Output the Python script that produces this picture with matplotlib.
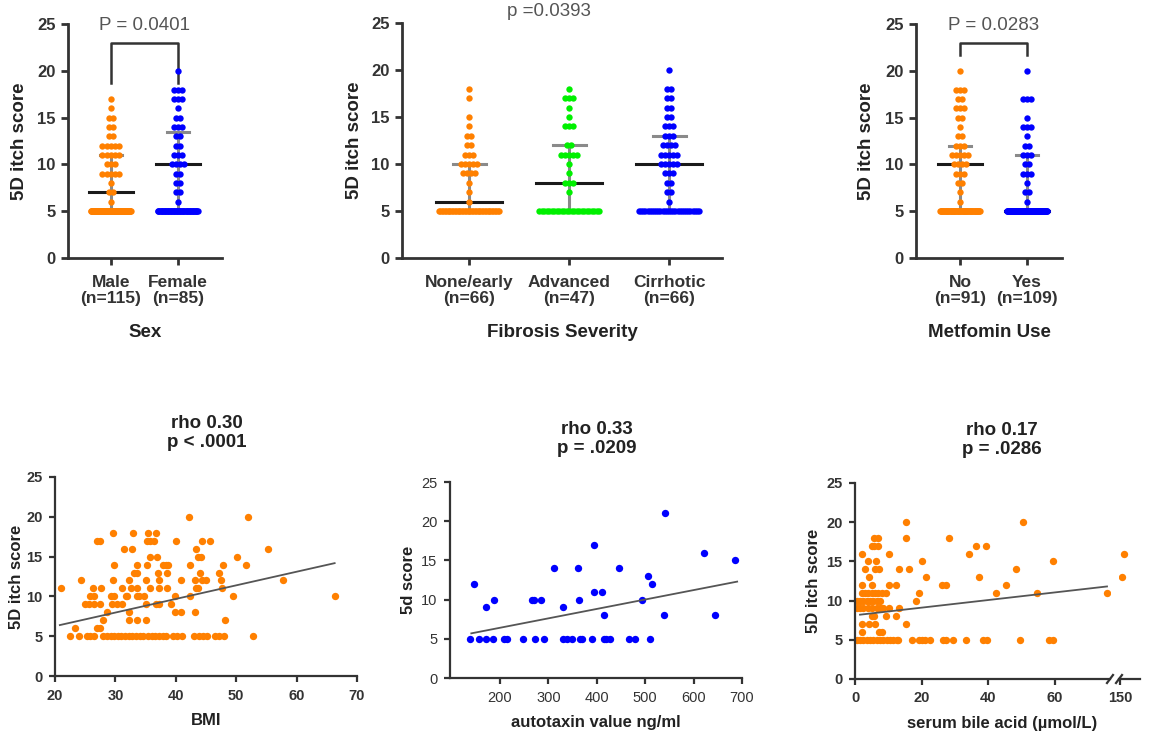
import numpy as np
import matplotlib
matplotlib.use('Agg')
import matplotlib.pyplot as plt

plt.rcParams['font.family'] = ['Liberation Sans', 'DejaVu Sans']

W, H = 1150, 731
ORANGE = '#ff8000'
BLUE = '#0000ff'
GREEN = '#00f000'
AXC = '#333333'

# ---- top row: 5D itch score dot plots (number of patients at each score) ----
score_levels = [5, 6, 7, 8, 9, 10, 11, 12, 13, 14, 15, 16, 17, 18, 19, 20]

male_counts = [85, 1, 2, 1, 5, 3, 5, 5, 2, 2, 2, 1, 1, 0, 0, 0]
female_counts = [54, 1, 2, 2, 2, 4, 3, 2, 2, 3, 2, 1, 3, 3, 0, 1]
none_counts = [43, 1, 1, 1, 4, 5, 3, 2, 2, 1, 1, 0, 1, 1, 0, 0]
advanced_counts = [25, 0, 1, 3, 1, 1, 5, 2, 0, 3, 1, 1, 3, 1, 0, 0]
cirrhotic_counts = [29, 1, 2, 2, 3, 5, 5, 4, 3, 3, 2, 2, 2, 2, 0, 1]
no_counts = [58, 1, 1, 2, 3, 4, 5, 3, 2, 1, 2, 3, 2, 3, 0, 1]
yes_counts = [86, 1, 2, 1, 3, 2, 3, 2, 1, 3, 1, 0, 3, 0, 0, 1]

sex_labels = ['Male\n(n=115)', 'Female\n(n=85)']
sex_median = [7, 10]
sex_q1 = [5, 5]
sex_q3 = [11, 13.5]

fib_labels = ['None/early\n(n=66)', 'Advanced\n(n=47)', 'Cirrhotic\n(n=66)']
fib_median = [6, 8, 10]
fib_q1 = [5, 5, 5]
fib_q3 = [10, 12, 13]

met_labels = ['No\n(n=91)', 'Yes\n(n=109)']
met_median = [10, 5]
met_q1 = [5, 5]
met_q3 = [12, 11]

# ---- bottom row: scatter data ----
bmi_value = [42.2, 51.9,
             29.6, 32.9, 35.4, 36.8,
             27.0, 27.5, 35.3, 35.8, 36.4, 40.1, 44.4, 45.7,
             31.4, 32.8, 43.4, 55.3,
             35.7, 36.9, 43.6, 44.2, 50.2,
             29.7, 33.5, 35.3, 37.8, 38.3, 38.7, 42.4, 47.8, 51.6,
             33.1, 33.6, 37.1, 38.5, 44.0, 47.1,
             24.3, 29.6, 32.2, 35.0, 37.2, 40.8, 43.2, 44.4, 45.0, 47.5, 57.8,
             21.0, 26.3, 27.6, 31.1, 32.5, 33.6, 35.8, 37.2, 38.6, 43.3, 43.6, 47.6,
             25.8, 26.4, 29.2, 29.7, 31.7, 32.0, 33.5, 33.9, 34.7, 39.8, 42.4, 49.4, 66.3,
             25.0, 25.6, 26.4, 27.5, 29.4, 30.3, 31.1, 35.0, 36.7, 37.2, 39.2,
             28.6, 32.2, 39.8, 40.9, 43.1,
             27.9, 32.2, 33.5, 35.0, 48.2,
             23.3, 27.0, 27.5,
             22.5, 23.9, 25.3, 25.8, 26.4, 28.0, 28.6, 29.2, 29.8, 30.4, 31.0, 31.6,
             32.2, 32.8, 33.4, 34.0, 34.6, 35.4, 36.0, 36.6, 37.2, 37.8, 38.4, 39.5,
             40.2, 41.0, 43.0, 43.8, 44.5, 45.2, 46.5, 47.2, 47.9, 52.8]
bmi_score = [20, 20,
             18, 18, 18, 18,
             17, 17, 17, 17, 17, 17, 17, 17,
             16, 16, 16, 16,
             15, 15, 15, 15, 15,
             14, 14, 14, 14, 14, 14, 14, 14, 14,
             13, 13, 13, 13, 13, 13,
             12, 12, 12, 12, 12, 12, 12, 12, 12, 12, 12,
             11, 11, 11, 11, 11, 11, 11, 11, 11, 11, 11, 11,
             10, 10, 10, 10, 10, 10, 10, 10, 10, 10, 10, 10, 10,
             9, 9, 9, 9, 9, 9, 9, 9, 9, 9, 9,
             8, 8, 8, 8, 8,
             7, 7, 7, 7, 7,
             6, 6, 6,
             5, 5, 5, 5, 5, 5, 5, 5, 5, 5, 5, 5,
             5, 5, 5, 5, 5, 5, 5, 5, 5, 5, 5, 5,
             5, 5, 5, 5, 5, 5, 5, 5, 5, 5]
bmi_fit = (2.84, 0.171)        # intercept, slope
bmi_fit_range = (20.8, 66.3)

atx_value = [540, 394, 622, 685,
             312, 361, 445,
             506,
             147, 514,
             395, 410,
             188, 266, 270, 285, 364, 493,
             172, 330,
             415, 538, 645,
             138, 157, 172, 186, 208, 214, 248, 272, 292, 330, 339,
             348, 366, 369, 391, 415, 419, 428, 466, 479, 509]
atx_score = [21, 17, 16, 15,
             14, 14, 14,
             13,
             12, 12,
             11, 11,
             10, 10, 10, 10, 10, 10,
             9, 9,
             8, 8, 8,
             5, 5, 5, 5, 5, 5, 5, 5, 5, 5, 5,
             5, 5, 5, 5, 5, 5, 5, 5, 5, 5]
atx_fit = (4.0, 0.01202)
atx_fit_range = (141, 690)

bile_value = [15.2, 50.3,
              5.8, 7.0, 15.2, 28.2,
              5.0, 5.8, 7.0, 36.3, 39.3,
              2.2, 10.2, 34.3, 151.8,
              4.0, 6.2, 20.2, 59.5,
              3.0, 6.0, 7.3, 13.2, 16.2, 48.3,
              4.3, 21.2, 37.3, 151.0,
              2.0, 5.0, 10.2, 12.3, 26.2, 27.2, 45.2,
              2.0, 3.0, 4.0, 5.0, 6.0, 7.0, 8.0, 9.2, 19.3, 42.2, 54.5, 75.5,
              0.5, 1.5, 2.5, 3.5, 4.5, 5.5, 6.5, 7.5, 18.3,
              0.5, 1.5, 2.5, 4.0, 5.0, 6.5, 7.5, 8.5, 10.2, 13.2,
              5.0, 5.8, 9.2, 12.2,
              2.2, 4.2, 6.0, 15.2,
              2.2, 7.2, 8.2,
              0.5, 1.5, 2.5, 3.5, 4.5, 5.5, 6.5, 7.5, 8.5, 9.5, 10.5, 11.5, 12.5, 13.0,
              17.0, 19.2, 20.0, 21.0, 22.5, 26.5, 27.3, 29.5, 33.3, 38.5, 39.5, 49.5,
              58.3, 59.5]
bile_score = [20, 20,
              18, 18, 18, 18,
              17, 17, 17, 17, 17,
              16, 16, 16, 16,
              15, 15, 15, 15,
              14, 14, 14, 14, 14, 14,
              13, 13, 13, 13,
              12, 12, 12, 12, 12, 12, 12,
              11, 11, 11, 11, 11, 11, 11, 11, 11, 11, 11, 11,
              10, 10, 10, 10, 10, 10, 10, 10, 10,
              9, 9, 9, 9, 9, 9, 9, 9, 9, 9,
              8, 8, 8, 8,
              7, 7, 7, 7,
              6, 6, 6,
              5, 5, 5, 5, 5, 5, 5, 5, 5, 5, 5, 5, 5, 5,
              5, 5, 5, 5, 5, 5, 5, 5, 5, 5, 5, 5,
              5, 5]
bile_fit = (8.13, 0.0486)
bile_fit_range = (1.5, 75.6)

fig = plt.figure(figsize=(W / 100, H / 100), dpi=100)


def add_ax(left, top, right, bottom):
    return fig.add_axes([left / W, 1 - bottom / H, (right - left) / W, (bottom - top) / H])


def dot_column(ax, pos, counts, color, px_per_unit):
    step = 4.2 / px_per_unit
    half = 0.3
    xs, ys = [], []
    for level, c in zip(score_levels, counts):
        if c == 0:
            continue
        d = min(step, 2 * half / (c - 1)) if c > 1 else 0
        offs = (np.arange(c) - (c - 1) / 2) * d
        xs.extend(pos + offs)
        ys.extend([level] * c)
    ax.scatter(xs, ys, s=21, color=color, linewidths=0, zorder=4)


def summary(ax, pos, med, q1, q3):
    ax.plot([pos, pos], [q1, q3], color='#8a8a8a', lw=2.2, zorder=3, solid_capstyle='butt')
    ax.plot([pos - 0.165, pos + 0.165], [q3, q3], color='#8a8a8a', lw=2.2, zorder=3)
    ax.plot([pos - 0.33, pos + 0.33], [med, med], color='#1a1a1a', lw=2.2, zorder=3)


def style_top(ax, labels, xlabel, xlim):
    for s in ['top', 'right']:
        ax.spines[s].set_visible(False)
    for s in ['left', 'bottom']:
        ax.spines[s].set_linewidth(2)
        ax.spines[s].set_color(AXC)
    ax.set_ylim(0, 25)
    ax.set_xlim(*xlim)
    ax.set_yticks([0, 5, 10, 15, 20, 25])
    ax.set_xticks(range(len(labels)))
    ax.set_xticklabels(labels, fontsize=12.5, fontweight='bold', linespacing=1.15)
    ax.tick_params(direction='out', length=5, width=2, colors=AXC)
    ax.tick_params(axis='x', pad=7)
    ax.tick_params(axis='y', labelsize=12, pad=4)
    for lbl in ax.get_yticklabels():
        lbl.set_fontweight('bold')
    ax.set_xlabel(xlabel, fontsize=13.5, fontweight='bold', color='#222')
    ax.set_ylabel('5D itch score', fontsize=13.5, fontweight='bold', color='#222')


# Sex
ax1 = add_ax(68, 24, 222, 258)
dot_column(ax1, 0, male_counts, ORANGE, 67)
dot_column(ax1, 1, female_counts, BLUE, 67)
for i in range(2):
    summary(ax1, i, sex_median[i], sex_q1[i], sex_q3[i])
style_top(ax1, sex_labels, 'Sex', (-0.64, 1.66))
ax1.plot([0, 0, 1, 1], [18.7, 23, 23, 18.7], color='#333', lw=1.8, clip_on=False)
ax1.text(0.5, 24.8, 'P = 0.0401', ha='center', va='center', fontsize=13.5, color='#555')
ax1.yaxis.set_label_coords(-0.26, 0.5)
ax1.xaxis.set_label_coords(0.5, -0.28)

# Fibrosis severity
ax2 = add_ax(402, 23, 722, 258)
dot_column(ax2, 0, none_counts, ORANGE, 100)
dot_column(ax2, 1, advanced_counts, GREEN, 100)
dot_column(ax2, 2, cirrhotic_counts, BLUE, 100)
for i in range(3):
    summary(ax2, i, fib_median[i], fib_q1[i], fib_q3[i])
style_top(ax2, fib_labels, 'Fibrosis Severity', (-0.67, 2.53))
ax2.text(0.8, 26.2, 'p =0.0393', ha='center', va='center', fontsize=13.5, color='#555')
ax2.yaxis.set_label_coords(-0.122, 0.5)
ax2.xaxis.set_label_coords(0.5, -0.28)

# Metformin use
ax3 = add_ax(916, 24, 1062, 258)
dot_column(ax3, 0, no_counts, ORANGE, 67)
dot_column(ax3, 1, yes_counts, BLUE, 67)
for i in range(2):
    summary(ax3, i, met_median[i], met_q1[i], met_q3[i])
style_top(ax3, met_labels, 'Metfomin Use', (-0.657, 1.52))
ax3.plot([0, 0, 1, 1], [21.7, 23, 23, 21.7], color='#333', lw=1.8, clip_on=False)
ax3.text(0.5, 24.8, 'P = 0.0283', ha='center', va='center', fontsize=13.5, color='#555')
ax3.yaxis.set_label_coords(-0.28, 0.5)
ax3.xaxis.set_label_coords(0.5, -0.28)


def style_bottom(ax, bold_ticks=True):
    for s in ['top', 'right']:
        ax.spines[s].set_visible(False)
    for s in ['left', 'bottom']:
        ax.spines[s].set_linewidth(1.6)
        ax.spines[s].set_color(AXC)
    ax.set_ylim(0, 25)
    ax.set_yticks([0, 5, 10, 15, 20, 25])
    ax.tick_params(direction='out', length=4, width=1.6, colors=AXC, labelsize=10.5, pad=5)
    if bold_ticks:
        for lbl in ax.get_xticklabels() + ax.get_yticklabels():
            lbl.set_fontweight('bold')


def fit_line(ax, fit, rng):
    xs = np.array(rng)
    ax.plot(xs, fit[0] + fit[1] * xs, color='#555', lw=1.3, zorder=3)


# BMI
ax4 = add_ax(55, 477, 357, 676)
ax4.scatter(bmi_value, bmi_score, s=28, color=ORANGE, linewidths=0, zorder=2)
fit_line(ax4, bmi_fit, bmi_fit_range)
ax4.set_xlim(20, 70)
ax4.set_xticks([20, 30, 40, 50, 60, 70])
style_bottom(ax4)
ax4.set_xlabel('BMI', fontsize=12, fontweight='bold', color='#222')
ax4.set_ylabel('5D itch score', fontsize=12, fontweight='bold', color='#222')
ax4.xaxis.set_label_coords(0.5, -0.185)
ax4.yaxis.set_label_coords(-0.104, 0.5)
ax4.text(0.503, 1.221, 'rho 0.30\np < .0001', transform=ax4.transAxes, ha='center',
         va='center', fontsize=13.5, fontweight='bold', linespacing=1.1, color='#222')

# Autotaxin
ax5 = add_ax(450, 482, 742, 678)
ax5.scatter(atx_value, atx_score, s=28, color=BLUE, linewidths=0, zorder=2)
fit_line(ax5, atx_fit, atx_fit_range)
ax5.set_xlim(97, 700)
ax5.set_xticks([200, 300, 400, 500, 600, 700])
style_bottom(ax5, bold_ticks=False)
ax5.set_xlabel('autotaxin value ng/ml', fontsize=12, fontweight='bold', color='#222')
ax5.set_ylabel('5d score', fontsize=12, fontweight='bold', color='#222')
ax5.xaxis.set_label_coords(0.5, -0.19)
ax5.yaxis.set_label_coords(-0.116, 0.5)
ax5.text(0.503, 1.219, 'rho 0.33\np = .0209', transform=ax5.transAxes, ha='center',
         va='center', fontsize=13.5, fontweight='bold', linespacing=1.1, color='#222')

# Serum bile acid (broken x axis)
ax6 = add_ax(855, 483, 1110, 679)
ax6b = add_ax(1119, 483, 1140, 679)
for ax in (ax6, ax6b):
    ax.scatter(bile_value, bile_score, s=28, color=ORANGE, linewidths=0, zorder=2)
fit_line(ax6, bile_fit, bile_fit_range)
ax6.set_xlim(0, 76.5)
ax6.set_xticks([0, 20, 40, 60])
style_bottom(ax6)
ax6b.set_xlim(149.5, 160)
ax6b.set_xticks([150])
style_bottom(ax6b)
ax6b.spines['left'].set_visible(False)
ax6b.set_yticks([])
ax6b.patch.set_visible(False)
ax6.set_xlabel('serum bile acid (µmol/L)', fontsize=12, fontweight='bold', color='#222')
ax6.set_ylabel('5D itch score', fontsize=12, fontweight='bold', color='#222')
ax6.xaxis.set_label_coords(0.576, -0.19)
ax6.yaxis.set_label_coords(-0.133, 0.5)
ax6.text(0.576, 1.219, 'rho 0.17\np = .0286', transform=ax6.transAxes, ha='center',
         va='center', fontsize=13.5, fontweight='bold', linespacing=1.1, color='#222')
# break marks
ax6.plot([1 - 3 / 255, 1 + 3 / 255], [-4 / 196, 4 / 196], transform=ax6.transAxes,
         color=AXC, lw=1.6, clip_on=False)
ax6b.plot([-3 / 21, 3 / 21], [-4 / 196, 4 / 196], transform=ax6b.transAxes,
          color=AXC, lw=1.6, clip_on=False)

fig.savefig('out.png', dpi=100, facecolor='white')
